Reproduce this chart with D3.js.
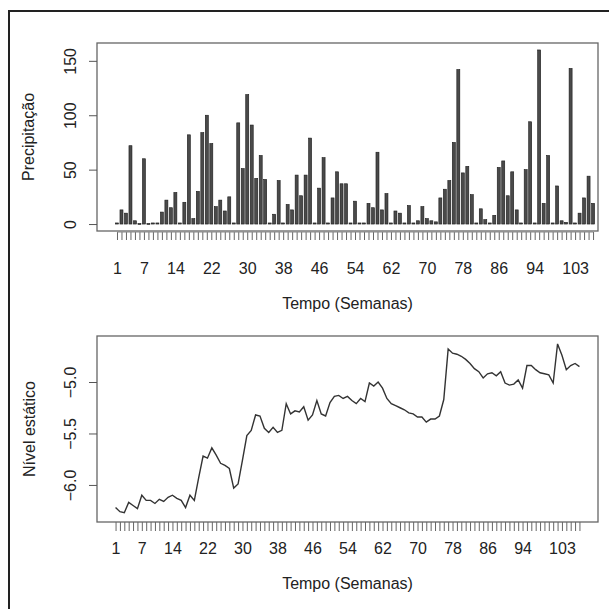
<!DOCTYPE html>
<html>
<head>
<meta charset="utf-8">
<script src="https://cdn.jsdelivr.net/npm/d3@7"></script>
<style>
  body { margin: 0; background: #fff; }
  text { font-family: "Liberation Sans", Arial, sans-serif; fill: #222; }
</style>
</head>
<body>
<div id="chart"></div>
<script>
// Precipitação semanal (mm)
const precipitacao = [1, 13, 10, 72, 3, 0.5, 60, 0.5, 1, 1, 11, 22, 15, 29, 1, 20, 82, 5, 30, 84,
  100, 74, 16, 22, 12, 25, 1, 93, 51, 119, 91, 42, 63, 41, 1, 9, 40, 1, 18, 13,
  45, 26, 45, 79, 1, 33, 61, 1, 24, 48, 37, 37, 1, 21, 1, 1, 19, 15, 66, 13,
  28, 1, 12, 10, 1, 17, 1, 3, 16, 5, 3, 2, 24, 32, 40, 75, 142, 47, 53, 27,
  1, 14, 4, 1, 8, 52, 58, 26, 48, 13, 1, 50, 94, 1, 160, 19, 63, 1, 35, 3,
  1.5, 143, 1, 10, 24, 44, 19];

// Nível estático semanal
const nivel = [-6.22, -6.26, -6.27, -6.17, -6.20, -6.23, -6.10, -6.15, -6.15, -6.18,
  -6.14, -6.16, -6.12, -6.10, -6.13, -6.15, -6.22, -6.10, -6.15, -5.93,
  -5.72, -5.74, -5.64, -5.71, -5.79, -5.81, -5.84, -6.03, -5.99, -5.76,
  -5.52, -5.47, -5.32, -5.33, -5.45, -5.49, -5.44, -5.49, -5.47, -5.21,
  -5.31, -5.28, -5.29, -5.24, -5.37, -5.32, -5.18, -5.31, -5.33, -5.20,
  -5.14, -5.13, -5.16, -5.14, -5.18, -5.21, -5.16, -5.19, -5.01, -5.04,
  -5.00, -5.06, -5.16, -5.21, -5.23, -5.25, -5.27, -5.30, -5.31, -5.34,
  -5.34, -5.39, -5.36, -5.36, -5.33, -5.17, -4.68, -4.72, -4.73, -4.75,
  -4.78, -4.82, -4.87, -4.90, -4.96, -4.92, -4.91, -4.94, -4.90, -5.01,
  -5.03, -5.02, -4.98, -5.06, -4.84, -4.84, -4.88, -4.91, -4.92, -4.93,
  -5.01, -4.63, -4.74, -4.88, -4.84, -4.82, -4.85];

const semanas = precipitacao.map((d, i) => i + 1);
const xTickLabels = [1, 7, 14, 22, 30, 38, 46, 54, 62, 70, 78, 86, 94, 103];
const precTicks = [0, 50, 100, 150];
const nivelTicks = [-6.0, -5.5, -5.0];

const W = 609, H = 609;
const svg = d3.select("#chart").append("svg")
    .attr("width", W)
    .attr("height", H);

// outer frame of the figure
svg.append("rect")
    .attr("x", 9).attr("y", 11)
    .attr("width", 640).attr("height", 640)
    .attr("fill", "none")
    .attr("stroke", "#222")
    .attr("stroke-width", 2);

const boxL = 97, boxR = 598;

/* ---------- PAINEL 1: precipitação ---------- */
const top1 = 43, bot1 = 231;

const x1 = d3.scaleLinear().domain([-3.45, 108.1]).range([boxL, boxR]);
const y1 = d3.scaleLinear().domain([-6.4, 166.4]).range([bot1, top1]);

// bars
svg.append("g").selectAll("rect")
    .data(precipitacao)
    .enter().append("rect")
    .attr("x", (d, i) => x1(semanas[i]) - 1.5)
    .attr("y", d => y1(d))
    .attr("width", 3.0)
    .attr("height", d => Math.max(y1(0) - y1(d), 1))
    .attr("fill", "#4a4a4a")
    .attr("stroke", "#1a1a1a")
    .attr("stroke-width", 0.6);

// box
svg.append("rect")
    .attr("x", boxL).attr("y", top1)
    .attr("width", boxR - boxL).attr("height", bot1 - top1)
    .attr("fill", "none").attr("stroke", "#666").attr("stroke-width", 1.3);

// y axis
const yAx1 = svg.append("g")
    .attr("transform", "translate(" + boxL + ",0)")
    .call(d3.axisLeft(y1).tickValues(precTicks).tickSize(8).tickSizeOuter(0).tickFormat(d3.format("d")));
yAx1.select(".domain").remove();
yAx1.selectAll("line").attr("stroke", "#555");
yAx1.selectAll("text")
    .attr("transform", "rotate(-90)")
    .attr("x", 0).attr("y", -21).attr("dy", 0)
    .attr("text-anchor", "middle")
    .style("font-size", "16px");

// x axis
const xAx1 = svg.append("g")
    .attr("transform", "translate(0," + (bot1 + 1) + ")")
    .call(d3.axisBottom(x1).tickValues(semanas).tickSize(8).tickSizeOuter(0)
        .tickFormat(d => xTickLabels.includes(d) ? d : ""));
xAx1.select(".domain").remove();
xAx1.selectAll("line").attr("stroke", "#666");
xAx1.append("line")
    .attr("x1", x1(1)).attr("x2", x1(semanas.length))
    .attr("stroke", "#888");
xAx1.selectAll("text")
    .attr("y", 42).attr("dy", 0)
    .attr("fill", "#222")
    .style("font-size", "16px");

svg.append("text")
    .attr("x", (boxL + boxR) / 2).attr("y", 309)
    .attr("text-anchor", "middle")
    .style("font-size", "16px")
    .text("Tempo (Semanas)");

svg.append("text")
    .attr("transform", "translate(34," + ((top1 + bot1) / 2) + ") rotate(-90)")
    .attr("text-anchor", "middle")
    .style("font-size", "16px")
    .text("Precipitação");

/* ---------- PAINEL 2: nível estático ---------- */
const top2 = 336, bot2 = 522;

const x2 = d3.scaleLinear().domain([-3.24, 111.24]).range([boxL, boxR]);
const y2 = d3.scaleLinear().domain([-6.36, -4.553]).range([bot2, top2]);

const valueline = d3.line()
    .x((d, i) => x2(semanas[i]))
    .y(d => y2(d));

svg.append("path")
    .datum(nivel)
    .attr("d", valueline)
    .attr("fill", "none")
    .attr("stroke", "#333")
    .attr("stroke-width", 1.4);

svg.append("rect")
    .attr("x", boxL).attr("y", top2)
    .attr("width", boxR - boxL).attr("height", bot2 - top2)
    .attr("fill", "none").attr("stroke", "#666").attr("stroke-width", 1.3);

const yAx2 = svg.append("g")
    .attr("transform", "translate(" + boxL + ",0)")
    .call(d3.axisLeft(y2).tickValues(nivelTicks).tickSize(8).tickSizeOuter(0).tickFormat(d3.format(".1f")));
yAx2.select(".domain").remove();
yAx2.selectAll("line").attr("stroke", "#555");
yAx2.selectAll("text")
    .attr("transform", "rotate(-90)")
    .attr("x", 0).attr("y", -21).attr("dy", 0)
    .attr("text-anchor", "middle")
    .style("font-size", "16px");

const xAx2 = svg.append("g")
    .attr("transform", "translate(0," + bot2 + ")")
    .call(d3.axisBottom(x2).tickValues(semanas).tickSize(9).tickSizeOuter(0)
        .tickFormat(d => xTickLabels.includes(d) ? d : ""));
xAx2.select(".domain").remove();
xAx2.selectAll("line").attr("stroke", "#666");
xAx2.selectAll("text")
    .attr("y", 32).attr("dy", 0)
    .attr("fill", "#222")
    .style("font-size", "16px");

svg.append("text")
    .attr("x", (boxL + boxR) / 2).attr("y", 589)
    .attr("text-anchor", "middle")
    .style("font-size", "16px")
    .text("Tempo (Semanas)");

svg.append("text")
    .attr("transform", "translate(35," + ((top2 + bot2) / 2) + ") rotate(-90)")
    .attr("text-anchor", "middle")
    .style("font-size", "16px")
    .text("Nível estático");
</script>
</body>
</html>
